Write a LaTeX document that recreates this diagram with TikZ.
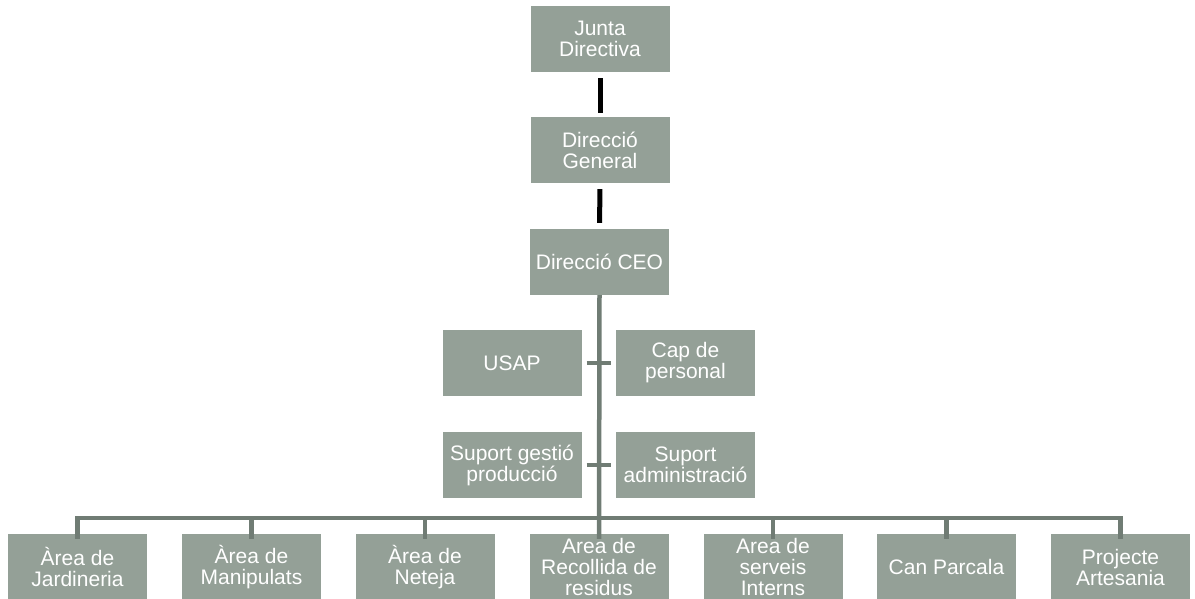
\documentclass[tikz,border=0pt]{standalone}
\usepackage{fontspec}
\setmainfont{Liberation Sans}
\definecolor{boxfill}{RGB}{148,160,151}
\definecolor{linegray}{RGB}{112,124,116}
\tikzset{
  x=1pt, y=-1pt,
  orgbox/.style={fill=boxfill, draw=none, minimum width=139pt, minimum height=66pt,
    inner sep=1pt, text=white, align=center,
    font=\fontsize{21pt}{21pt}\selectfont},
  gline/.style={draw=linegray, line width=4.5pt},
  bline/.style={draw=black, line width=5pt},
}
\begin{document}
\begin{tikzpicture}
\useasboundingbox (0,0) rectangle (1195,598);
\clip (0,0) rectangle (1195,598);
% top chain
\node[orgbox] (jd) at (600,39) {Junta\\Directiva};
\node[orgbox] (dg) at (600,150) {Direcció\\General};
\node[orgbox] (ceo) at (599.5,262) {Direcció CEO};
% staff
\node[orgbox] (usap) at (512,363) {USAP};
\node[orgbox] (cap) at (685.5,363) {Cap de\\personal};
\node[orgbox] (sgp) at (512,465) {Suport gestió\\producció};
\node[orgbox] (sa) at (685.5,465) {Suport\\administració};
% bottom row
\node[orgbox] (b1) at (77.5,567) {Àrea de\\Jardineria};
\node[orgbox] (b2) at (251.5,567) {Àrea de\\Manipulats};
\node[orgbox] (b3) at (425,567) {Àrea de\\Neteja};
\node[orgbox] (b4) at (599,567) {Area de\\Recollida de\\residus};
\node[orgbox] (b5) at (773,567) {Area de\\serveis\\Interns};
\node[orgbox] (b6) at (946.5,567) {Can Parcala};
\node[orgbox] (b7) at (1120.5,567) {Projecte\\Artesania};
\coordinate (bar) at (599,518);
% black connectors
\draw[bline, shorten <=6pt, shorten >=4pt] (jd) -- (dg);
\draw[bline, shorten <=6pt, shorten >=6pt] (dg) -- (ceo);
% trunk
\draw[gline] (ceo.south) -- ([yshift=-5pt]b4.north);
% ticks
\draw[gline, shorten <=5pt, shorten >=5pt] (usap.east) -- (cap.west);
\draw[gline, shorten <=5pt, shorten >=5pt] (sgp.east) -- (sa.west);
% bottom bar
\draw[gline] ([yshift=-5pt]b1.north) -- (b1.north |- bar) -- (b7.north |- bar) -- ([yshift=-5pt]b7.north);
\foreach \n in {b2,b3,b5,b6}
  \draw[gline] (\n.north |- bar) -- ([yshift=-5pt]\n.north);
\end{tikzpicture}
\end{document}
